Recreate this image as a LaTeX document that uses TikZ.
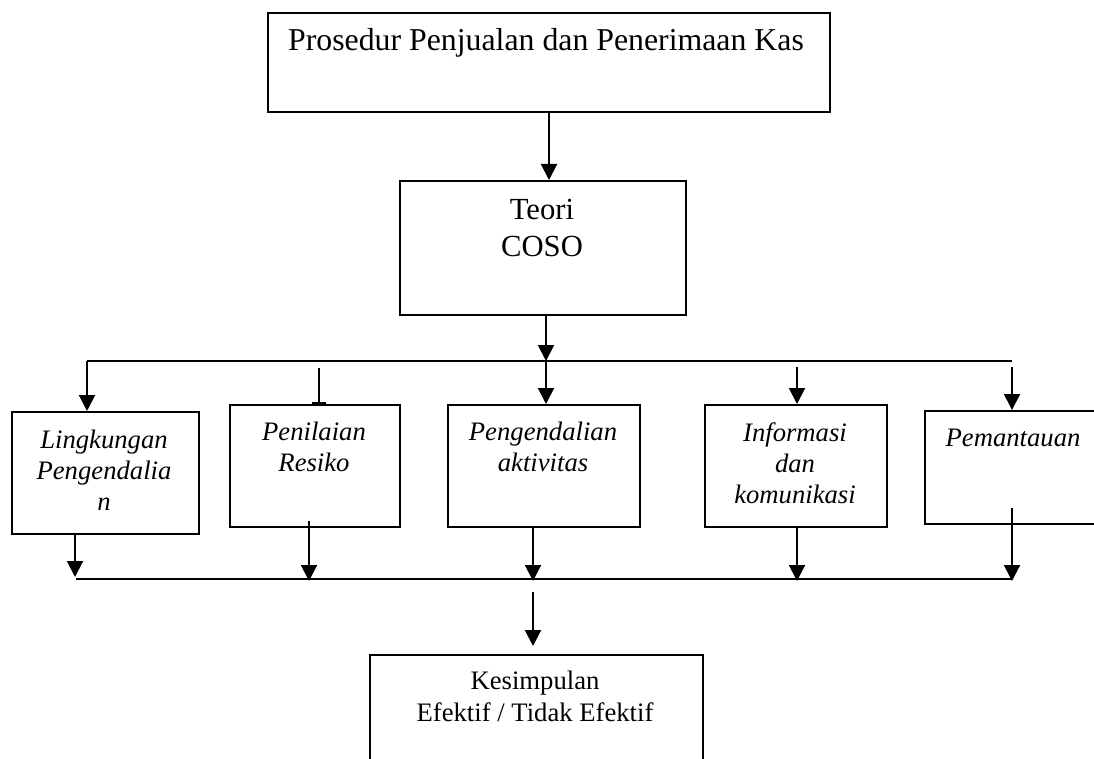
\documentclass[tikz,border=0pt]{standalone}
\usepackage{fontspec}
\setmainfont{Liberation Serif}
\usetikzlibrary{arrows.meta}
\begin{document}
\begin{tikzpicture}[x=0.75pt,y=-0.75pt,line width=1.5pt,
  box/.style={draw,inner sep=0pt,anchor=north west},
  arr/.style={-{Triangle[width=12pt,length=12pt]}},
  barend/.style={-{Bar[width=11pt]}},
  itl/.style={font=\fontsize{20}{23.25}\selectfont\itshape,align=center,inner sep=0pt},
  upr/.style={font=\fontsize{20}{24}\selectfont,align=center,inner sep=0pt}]
\useasboundingbox (0,0) rectangle (1094,759);
\clip (0,0) rectangle (1094,759);
% boxes
\node[box,minimum width=421.5pt,minimum height=74.25pt] (top) at (267,12) {};
\node[box,minimum width=214.5pt,minimum height=100.5pt] (teori) at (399,180) {};
\node[box,minimum width=140.25pt,minimum height=91.5pt] (ling) at (11,411) {};
\node[box,minimum width=127.5pt,minimum height=91.5pt] (pen) at (229,404) {};
\node[box,minimum width=144pt,minimum height=91.5pt] (peng) at (447,404) {};
\node[box,minimum width=136.5pt,minimum height=91.5pt] (info) at (704,404) {};
\node[box,minimum width=147pt,minimum height=84.75pt] (pem) at (924,410) {};
\node[box,minimum width=249.75pt,minimum height=109.5pt] (kes) at (369,654) {};
% texts
\node[font=\fontsize{23.85}{28}\selectfont,inner sep=0pt] (t0) at (546,43) {Prosedur Penjualan dan Penerimaan Kas};
\node[font=\fontsize{23}{27.75}\selectfont,align=center,inner sep=0pt] (t1) at (542,228) {Teori\\COSO};
\node[itl] (t2) at (104,470) {Lingkungan\\Pengendalia\\n};
\node[itl] (t3) at (314,447) {Penilaian\\Resiko};
\node[itl] (t4) at (543,447) {Pengendalian\\aktivitas};
\node[itl] (t5) at (795,463) {Informasi\\dan\\komunikasi};
\node[itl] (t6) at (1013,438) {Pemantauan};
\node[upr] (t7) at (535,696) {Kesimpulan\\Efektif / Tidak Efektif};
% top connectors
\draw[arr] (top.south) -- (top.south |- teori.north);
\coordinate (tl) at (87,361);
\coordinate (tr) at (1012,361);
\coordinate (j0) at (546,361);
\draw[arr] (teori.south -| j0) -- (j0);
\draw (tl) -- (tr);
\draw[arr] (tl) -- (tl |- ling.north);
\coordinate (p1) at (319,368);
\draw[barend] (p1) -- (p1 |- pen.north);
\draw[arr] (j0) -- (j0 |- peng.north);
\coordinate (p3) at (797,367);
\draw[arr] (p3) -- (p3 |- info.north);
\coordinate (p4) at (1012,367);
\draw[arr] (p4) -- (p4 |- pem.north);
% bottom connectors
\coordinate (bl) at (76,579);
\coordinate (br) at (1012,579);
\draw (bl) -- (br);
\coordinate (q0) at (75,577);
\draw[arr] (ling.south -| q0) -- (q0);
\coordinate (q1s) at (309,521);
\coordinate (q1) at (309,581);
\draw[arr] (q1s) -- (q1);
\coordinate (q2) at (533,581);
\draw[arr] (peng.south -| q2) -- (q2);
\coordinate (q3) at (797,581);
\draw[arr] (info.south -| q3) -- (q3);
\coordinate (q4s) at (1012,508);
\coordinate (q4) at (1012,581);
\draw[arr] (q4s) -- (q4);
\coordinate (k0) at (533,592);
\draw[arr,shorten >=6pt] (k0) -- (k0 |- kes.north);
\end{tikzpicture}
\end{document}
